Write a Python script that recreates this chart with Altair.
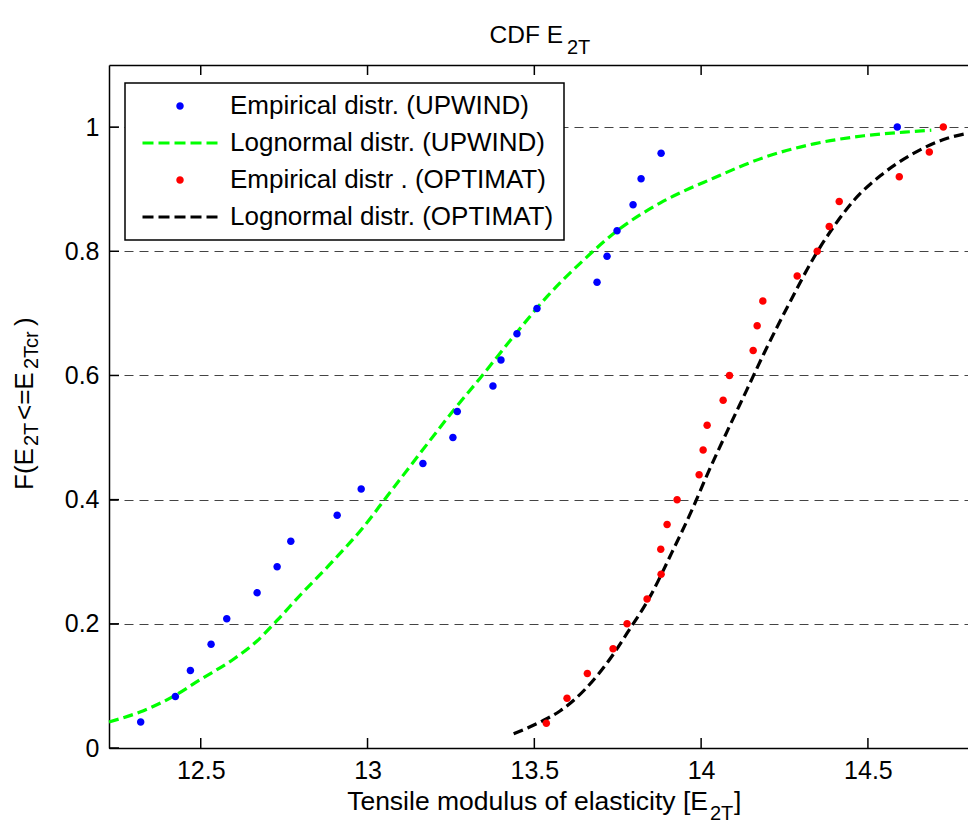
import altair as alt
import pandas as pd

# ---------------- data ----------------
series_names = [
    "Empirical distr. (UPWIND)",
    "Lognormal distr. (UPWIND)",
    "Empirical distr . (OPTIMAT)",
    "Lognormal distr. (OPTIMAT)",
]
series_colors = ["#0000ff", "#00ff00", "#ff0000", "#000000"]

upwind_emp_x = [12.320, 12.424, 12.469, 12.531, 12.578, 12.669, 12.729, 12.770,
                12.909, 12.981, 13.166, 13.256, 13.269, 13.376, 13.400, 13.448,
                13.508, 13.688, 13.718, 13.748, 13.796, 13.820, 13.880, 14.588]
upwind_emp_y = [0.042, 0.083, 0.125, 0.167, 0.208, 0.250, 0.292, 0.333,
                0.375, 0.417, 0.458, 0.500, 0.542, 0.583, 0.625, 0.667,
                0.708, 0.750, 0.792, 0.833, 0.875, 0.917, 0.958, 1.000]

optimat_emp_x = [13.536, 13.598, 13.659, 13.736, 13.778, 13.838, 13.880, 13.879,
                 13.898, 13.928, 13.994, 14.006, 14.018, 14.066, 14.085, 14.156,
                 14.168, 14.185, 14.288, 14.348, 14.384, 14.414, 14.594, 14.684,
                 14.726]
optimat_emp_y = [0.04, 0.08, 0.12, 0.16, 0.20, 0.24, 0.28, 0.32,
                 0.36, 0.40, 0.44, 0.48, 0.52, 0.56, 0.60, 0.64,
                 0.68, 0.72, 0.76, 0.80, 0.84, 0.88, 0.92, 0.96,
                 1.00]

upwind_logn_x = [12.225, 12.318, 12.424, 12.498, 12.598, 12.668, 12.728, 12.798,
                 12.898, 12.988, 13.058, 13.158, 13.258, 13.338, 13.438, 13.538,
                 13.638, 13.758, 13.878, 14.038, 14.188, 14.338, 14.488, 14.638,
                 14.690]
upwind_logn_y = [0.042, 0.058, 0.085, 0.110, 0.143, 0.172, 0.205, 0.246,
                 0.302, 0.356, 0.405, 0.475, 0.544, 0.596, 0.663, 0.727,
                 0.781, 0.837, 0.878, 0.918, 0.951, 0.973, 0.986, 0.993,
                 0.995]

optimat_logn_x = [13.438, 13.518, 13.578, 13.653, 13.738, 13.778, 13.848, 13.908,
                  13.978, 14.018, 14.078, 14.138, 14.188, 14.268, 14.338, 14.398,
                  14.458, 14.538, 14.638, 14.738, 14.800]
optimat_logn_y = [0.023, 0.042, 0.060, 0.095, 0.152, 0.185, 0.245, 0.310,
                  0.390, 0.440, 0.510, 0.578, 0.635, 0.720, 0.790, 0.840,
                  0.882, 0.922, 0.958, 0.982, 0.990]

x_ticks = [12.5, 13, 13.5, 14, 14.5]
y_ticks = [0, 0.2, 0.4, 0.6, 0.8, 1.0]
x_domain = [12.225, 14.8]
y_domain = [0, 1.1]

title_parts = ["CDF E", "2T"]
xtitle_parts = ["Tensile modulus of elasticity [E", "2T", "]"]
ytitle_parts = ["F(E", "2T", "<=E", "2Tcr", ")"]

# ---------------- tables ----------------
points_df = pd.concat([
    pd.DataFrame({"x": upwind_emp_x, "y": upwind_emp_y, "series": series_names[0]}),
    pd.DataFrame({"x": optimat_emp_x, "y": optimat_emp_y, "series": series_names[2]}),
])
up_line_df = pd.DataFrame({"x": upwind_logn_x, "y": upwind_logn_y})
op_line_df = pd.DataFrame({"x": optimat_logn_x, "y": optimat_logn_y})
xtick_bottom_df = pd.DataFrame({"tx": x_ticks, "ty": [y_domain[0]] * len(x_ticks)})
xtick_top_df = pd.DataFrame({"tx": x_ticks, "ty": [y_domain[1]] * len(x_ticks)})
ytick_left_df = pd.DataFrame({"tx": [x_domain[0]] * len(y_ticks), "ty": y_ticks})

# ---------------- layout ----------------
W, H = 859, 683
FONT = "Liberation Sans"
TICK_FS = 25
LAB_FS = 26
XT_FS = 26.5
SUB_FS = 20
TICK_LEN = 10

x_scale = alt.Scale(domain=x_domain, nice=False, zero=False)
y_scale = alt.Scale(domain=y_domain, nice=False, zero=False)
color_scale = alt.Scale(domain=series_names, range=series_colors)
DOT = "M0.75,0A0.75,0.75,0,1,1,-0.75,0A0.75,0.75,0,1,1,0.75,0Z"
DASH = ("M-7.5,-0.3H-5.3V0.3H-7.5Z M-4.3,-0.3H-2.1V0.3H-4.3Z M-1.1,-0.3H1.1V0.3H-1.1Z "
        "M2.1,-0.3H4.3V0.3H2.1Z M5.3,-0.3H7.5V0.3H5.3Z")
shape_scale = alt.Scale(domain=series_names, range=[DOT, DASH, DOT, DASH])

legend = alt.Legend(
    title=None, orient="none", legendX=16, legendY=18, padding=10,
    strokeColor="black", fillColor="white", symbolSize=100, symbolStrokeWidth=0,
    symbolOffset=32, labelOffset=37, labelFont=FONT, labelFontSize=LAB_FS,
    labelColor="black", labelLimit=700, rowPadding=11, cornerRadius=0,
)

# main points layer: carries tick labels, grid and legend
points = alt.Chart(points_df).mark_point(filled=True, size=100, opacity=1, strokeWidth=0).encode(
    x=alt.X("x:Q", scale=x_scale, axis=alt.Axis(
        orient="bottom", title=None, values=x_ticks, format="~g", ticks=False, tickSize=0,
        labelPadding=10, labelFont=FONT, labelFontSize=TICK_FS, labelColor="black",
        domainColor="black", domainWidth=1.5, grid=False)),
    y=alt.Y("y:Q", scale=y_scale, axis=alt.Axis(
        orient="left", title=None, values=y_ticks, format="~g", ticks=False, tickSize=0,
        labelPadding=10, labelFont=FONT, labelFontSize=TICK_FS, labelColor="black",
        domainColor="black", domainWidth=1.5, grid=True, gridDash=[9, 6],
        gridColor="#444444", gridWidth=1, gridOpacity=1)),
    color=alt.Color("series:N", scale=color_scale, legend=legend),
    shape=alt.Shape("series:N", scale=shape_scale, legend=legend),
)

up_line = alt.Chart(up_line_df).mark_line(
    color=series_colors[1], strokeDash=[10, 5], strokeWidth=3.2, interpolate="monotone"
).encode(
    x=alt.X("x:Q", scale=x_scale, axis=None),
    y=alt.Y("y:Q", scale=y_scale, axis=None),
)

# optimat line also carries the top border of the box
op_line = alt.Chart(op_line_df).mark_line(
    color=series_colors[3], strokeDash=[10, 5], strokeWidth=3.2, interpolate="monotone"
).encode(
    x=alt.X("x:Q", scale=x_scale, axis=alt.Axis(
        orient="top", title=None, labels=False, ticks=False, grid=False, domain=True,
        domainColor="black", domainWidth=1.5)),
    y=alt.Y("y:Q", scale=y_scale, axis=None),
)

# inward tick marks (MATLAB style)
ticks_bottom = alt.Chart(xtick_bottom_df).mark_rule(
    color="black", strokeWidth=1.5, y2Offset=-TICK_LEN
).encode(
    x=alt.X("tx:Q", scale=x_scale, axis=None),
    y=alt.Y("ty:Q", scale=y_scale, axis=None),
    y2=alt.Y2("ty"),
)
ticks_top = alt.Chart(xtick_top_df).mark_rule(
    color="black", strokeWidth=1.5, y2Offset=TICK_LEN
).encode(
    x=alt.X("tx:Q", scale=x_scale, axis=None),
    y=alt.Y("ty:Q", scale=y_scale, axis=None),
    y2=alt.Y2("ty"),
)
ticks_left = alt.Chart(ytick_left_df).mark_tick(
    orient="horizontal", size=TICK_LEN, thickness=1.5, color="black", xOffset=TICK_LEN / 2,
    opacity=1
).encode(
    x=alt.X("tx:Q", scale=x_scale, axis=None),
    y=alt.Y("ty:Q", scale=y_scale, axis=None),
)


def txt(s, x, y, size, align="left", angle=0):
    return alt.Chart(pd.DataFrame({"t": [s]})).mark_text(
        font=FONT, fontSize=size, align=align, baseline="alphabetic", angle=angle,
        color="black").encode(text="t:N", x=alt.value(x), y=alt.value(y))


texts = [
    # title
    txt(title_parts[0], 454, -22, 24.5, align="right"),
    txt(title_parts[1], 458, -11, SUB_FS),
    # x title
    txt(xtitle_parts[0], 599, 745, XT_FS, align="right"),
    txt(xtitle_parts[1], 601, 755, SUB_FS),
    txt(xtitle_parts[2], 625, 745, XT_FS),
    # y title (rotated)
    txt(ytitle_parts[0], -76, 425, LAB_FS, angle=270),
    txt(ytitle_parts[1], -71, 381, SUB_FS, angle=270),
    txt(ytitle_parts[2], -76, 355, LAB_FS, angle=270),
    txt(ytitle_parts[3], -71, 304, SUB_FS, angle=270),
    txt(ytitle_parts[4], -76, 261, LAB_FS, angle=270),
]

chart = alt.layer(
    up_line, op_line, points, ticks_bottom, ticks_top, ticks_left, *texts
).resolve_axis(
    x="independent", y="independent"
).properties(
    width=W, height=H,
    autosize=alt.AutoSizeParams(type="none"),
    padding={"left": 109, "top": 65, "right": 0, "bottom": 81},
    background="white",
).configure_view(stroke=None).configure_legend(strokeWidth=1.5)

chart.save("out.html", embed_options={"renderer": "svg", "actions": False})
